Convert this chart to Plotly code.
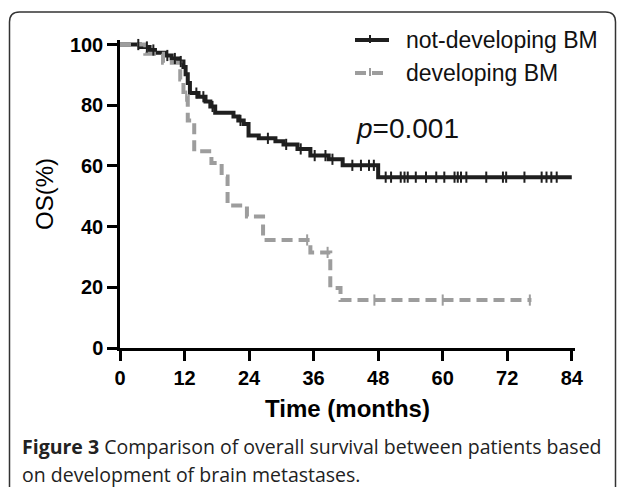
import numpy as np
import plotly.graph_objects as go

# ---------------- data ----------------
nd_name = "not-developing BM"
nd_time = [0, 3.7, 5.5, 6.5, 8.4, 9.6, 10.8, 11.8, 12.2, 12.6, 13.0, 14.6, 15.9, 16.8,
           17.7, 21.1, 22.0, 23.0, 23.9, 25.8, 28.9, 30.4, 33.0, 35.4, 38.8, 41.4, 48.0, 84.0]
nd_surv = [100, 99.2, 98.2, 97.3, 96.4, 95.4, 94.4, 92.6, 90.2, 87.3, 84.0, 82.8, 81.2, 79.6,
           77.5, 76.3, 75.0, 73.8, 70.0, 69.1, 68.1, 67.1, 65.6, 63.4, 62.2, 60.2, 56.3, 56.3]
nd_censor = [3.4, 5.0, 6.2, 8.8, 10.2, 11.3, 14.2, 15.5, 17.2, 22.4, 27.5, 30.9, 33.6, 36.2,
             38.2, 39.5, 43.2, 44.8, 46.3, 47.2, 49.4, 50.4, 52.2, 52.9, 53.5, 55.0, 56.9,
             58.8, 60.3, 62.2, 62.8, 63.4, 64.4, 68.1, 71.2, 71.8, 75.2, 78.4, 79.3, 80.2, 81.2]

dv_name = "developing BM"
dv_time = [0, 4.7, 8.0, 11.2, 11.8, 12.6, 13.8, 17.0, 18.9, 20.0, 23.6, 26.6, 35.4, 39.1, 41.0, 76.5]
dv_surv = [100, 97, 94, 88.5, 83, 75, 64.8, 61, 56.5, 47, 43.3, 35.6, 31.5, 19.8, 15.8, 15.8]
dv_censor = [12.3, 34.8, 38.6, 47.3, 60.0, 76.2]

x_ticks = [0, 12, 24, 36, 48, 60, 72, 84]
y_ticks = [0, 20, 40, 60, 80, 100]
p_text = "<i>p</i>=0.001"
x_title = "Time (months)"
y_title = "OS(%)"
caption_1 = "<b>Figure 3</b> Comparison of overall survival between patients based"
caption_2 = "on development of brain metastases."

# ---------------- helpers ----------------
def step_at(times, surv, t):
    times = np.asarray(times)
    surv = np.asarray(surv)
    idx = np.searchsorted(times, np.asarray(t), side="right") - 1
    return surv[idx]

W, H = 629, 487
ML, MR, MT, MB = 120, 54, 40, 139
PW, PH = W - ML - MR, H - MT - MB

def px(xp):
    return (xp - ML) / PW

def py(yp):
    return (H - MB - yp) / PH

BLACK = "#1f1f1f"
GRAY = "#9d9d9d"
DASH = "11px,6px"
FONT = "Liberation Sans, Arial, Helvetica, sans-serif"
CAPFONT = "Open Sans, Noto Sans, sans-serif"

fig = go.Figure()

# step curves
fig.add_trace(go.Scatter(x=nd_time, y=nd_surv, mode="lines", line_shape="hv", name=nd_name,
                         line=dict(color=BLACK, width=4), showlegend=False, hoverinfo="skip"))
fig.add_trace(go.Scatter(x=dv_time, y=dv_surv, mode="lines", line_shape="hv", name=dv_name,
                         line=dict(color=GRAY, width=4, dash=DASH),
                         showlegend=False, hoverinfo="skip"))
# censor ticks
fig.add_trace(go.Scatter(x=nd_censor, y=step_at(nd_time, nd_surv, nd_censor), mode="markers",
                         marker=dict(symbol="line-ns", size=8,
                                     line=dict(color=BLACK, width=2)),
                         showlegend=False, cliponaxis=False, hoverinfo="skip"))
fig.add_trace(go.Scatter(x=dv_censor, y=step_at(dv_time, dv_surv, dv_censor), mode="markers",
                         marker=dict(symbol="line-ns", size=8,
                                     line=dict(color=GRAY, width=2)),
                         showlegend=False, cliponaxis=False, hoverinfo="skip"))

axis_common = dict(showline=True, linecolor="black", linewidth=2.5, ticks="outside",
                   ticklen=10, tickwidth=2.5, tickcolor="black", showgrid=False,
                   zeroline=False, tickfont=dict(family=FONT, size=20, color="black",
                                                 weight="bold"))

fig.update_xaxes(range=[0, 84.6], tickvals=x_ticks, ticktext=[str(v) for v in x_ticks],
                 title=dict(text=x_title, standoff=13,
                            font=dict(family=FONT, size=24, color="black", weight="bold")),
                 **axis_common)
fig.update_yaxes(range=[0, 101.5], tickvals=y_ticks, ticktext=[str(v) for v in y_ticks],
                 title=dict(text=y_title, standoff=10,
                            font=dict(family=FONT, size=24, color="black")),
                 **axis_common)

# frame (rounded box)
l, r, t, b = px(9.5), px(615.5), py(12), py(500)
dx, dy = 10 / PW, 10 / PH
frame = (f"M{l},{b} L{l},{t - dy} Q{l},{t} {l + dx},{t} L{r - dx},{t} "
         f"Q{r},{t} {r},{t - dy} L{r},{b}")
fig.add_shape(type="path", path=frame, xref="paper", yref="paper",
              line=dict(color="#333333", width=1.5), layer="below")

# legend (drawn as shapes + text)
for name, color, dash, yp in [(nd_name, BLACK, "solid", 40), (dv_name, GRAY, DASH, 73)]:
    fig.add_shape(type="line", xref="paper", yref="paper", x0=px(355), x1=px(389),
                  y0=py(yp), y1=py(yp), line=dict(color=color, width=4, dash=dash))
    fig.add_shape(type="line", xref="paper", yref="paper", x0=px(370), x1=px(370),
                  y0=py(yp - 5), y1=py(yp + 3), line=dict(color=color, width=2))
    fig.add_annotation(x=px(404), y=py(yp), xref="paper", yref="paper", text=name,
                       showarrow=False, xanchor="left", yanchor="middle",
                       font=dict(family=FONT, size=23, color="#111111"))

fig.add_annotation(x=px(354), y=py(128), xref="paper", yref="paper", text=p_text,
                   showarrow=False, xanchor="left", yanchor="middle",
                   font=dict(family=FONT, size=28, color="#111111"))
fig.add_annotation(x=px(20), y=py(446), xref="paper", yref="paper", text=caption_1,
                   showarrow=False, xanchor="left", yanchor="middle",
                   font=dict(family=CAPFONT, size=19.5, color="#222222"))
fig.add_annotation(x=px(20), y=py(474), xref="paper", yref="paper", text=caption_2,
                   showarrow=False, xanchor="left", yanchor="middle",
                   font=dict(family=CAPFONT, size=19.5, color="#222222"))

fig.update_layout(
    width=W, height=H,
    margin=dict(l=ML, r=MR, t=MT, b=MB, autoexpand=False),
    paper_bgcolor="white", plot_bgcolor="white",
    showlegend=False,
)

fig.write_html("out.html", config={"displayModeBar": False},
               post_script="document.body.style.margin='0';")
